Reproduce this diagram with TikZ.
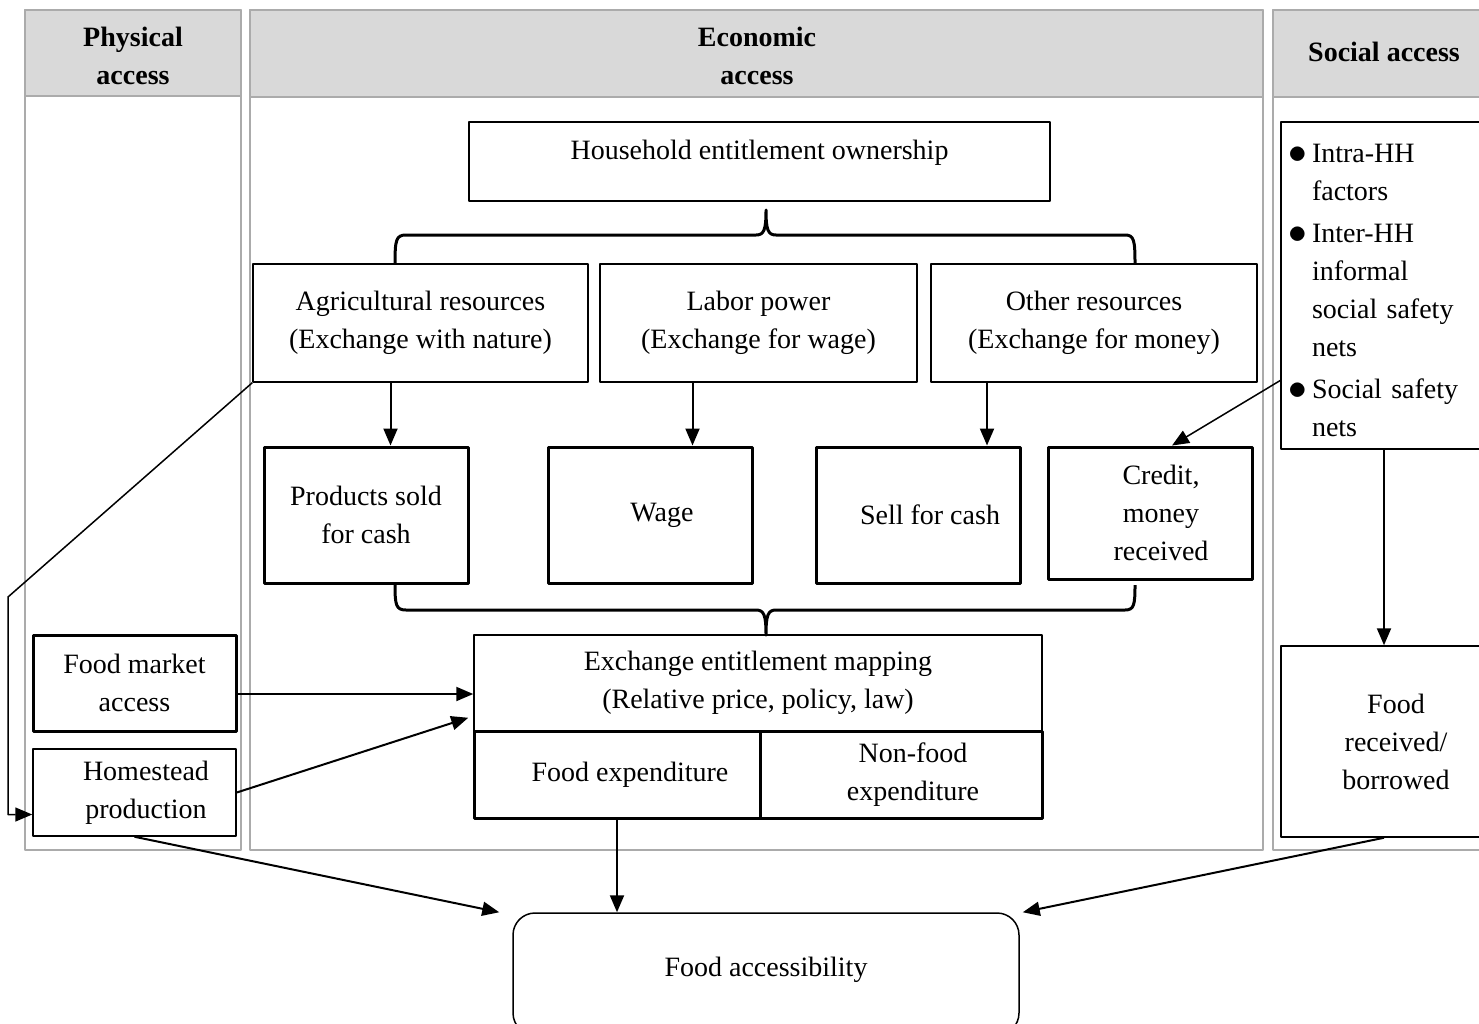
\documentclass[tikz,border=0pt]{standalone}
\usepackage{fontspec}
\setmainfont{Liberation Serif}
\usetikzlibrary{arrows.meta,positioning}

\newcommand{\dotmark}{\makebox[17pt][l]{\hspace*{-7pt}\raisebox{-0.5pt}{\scalebox{1.5}{$\bullet$}}}}

\begin{document}
\begin{tikzpicture}[x=1pt, y=-1pt, line join=round, >={Triangle[length=17pt,width=14pt]},
	font=\fontsize{28}{38}\selectfont,
	panel/.style={draw=black!33, line width=2.2pt},
	head/.style={panel, fill=black!15},
	headtext/.style={align=center, font=\fontsize{28}{38}\selectfont\bfseries},
	box/.style={draw, line width=1.5pt, align=center, inner sep=0pt},
	thickbox/.style={box, line width=3pt},
	link/.style={->, line width=2pt},
	brace/.style={line width=3pt}]
	\clip (0,0) rectangle (1479,1023);
	% 1. the three columns with grey heads
	\draw[panel] (25,10) rectangle (241,850);
	\draw[head] (25,10) rectangle (241,96);
	\draw[panel] (250,10) rectangle (1263,850);
	\draw[head] (250,10) rectangle (1263,97);
	\draw[panel] (1273,10) rectangle (1500,850);
	\draw[head] (1273,10) rectangle (1500,97);
	\node[headtext] (phys) at (133,56) {Physical\\access};
	\node[headtext] (econ) at (757,56) {Economic\\access};
	\node[headtext] (soci) at (1384,52) {Social access};
	
	% 2. economic access boxes
	\node[box, minimum width=581pt, minimum height=79pt] (hho) at (759.5,161.5) {\raisebox{23pt}{Household entitlement ownership}};
	\node[box, minimum width=335pt, minimum height=118pt] (agr) at (420.5,323) {Agricultural resources\\(Exchange with nature)};
	\node[box, minimum width=317pt, minimum height=118pt] (lab) at (758.5,323) {Labor power\\(Exchange for wage)};
	\node[box, minimum width=326pt, minimum height=118pt] (oth) at (1094,323) {Other resources\\(Exchange for money)};
	\node[thickbox, minimum width=204pt, minimum height=136pt] (psc) at (366,515) {Products sold\\for cash};
	\node[thickbox, minimum width=204pt, minimum height=136pt] (wag) at (650,515) {\hspace*{24pt}Wage};
	\node[thickbox, minimum width=204pt, minimum height=136pt] (sfc) at (918,515) {\hspace*{24pt}Sell for cash};
	\node[thickbox, minimum width=204pt, minimum height=132pt] (crd) at (1150,513) {\hspace*{22pt}Credit,\\\hspace*{22pt}money\\\hspace*{22pt}received};
	\node[box, minimum width=568pt, minimum height=96pt] (exm) at (758,683) {Exchange entitlement mapping\\(Relative price, policy, law)};
	\node[thickbox, minimum width=286pt, minimum height=87pt] (fex) at (617,774.5) {\hspace*{26pt}Food expenditure};
	\node[thickbox, minimum width=282pt, minimum height=87pt] (nfx) at (901,774.5) {\raisebox{-11pt}{\parbox{200pt}{\centering\hspace*{24pt}Non-food\\\hspace*{24pt}expenditure}}};
	
	% 3. physical access boxes
	\node[thickbox, minimum width=203pt, minimum height=96pt] (fma) at (134.5,683) {Food market\\access};
	\node[box, minimum width=203pt, minimum height=87pt] (hst) at (134.5,792.5) {\hspace*{23pt}Homestead\\\hspace*{23pt}production};
	
	% 4. social access boxes
	\node[box, minimum width=206pt, minimum height=327pt, text width=178pt, align=left] (soc) at (1384,285.5)
		{\parbox{178pt}{\vspace*{10pt}\dotmark Intra-HH\\\hspace*{17pt}factors\\[4pt]
		 \dotmark Inter-HH\\\hspace*{17pt}informal\\\hspace*{17pt}social safety\\\hspace*{17pt}nets\\[4pt]
		 \dotmark Social safety\\\hspace*{17pt}nets}};
	\node[box, minimum width=206pt, minimum height=191pt] (rcv) at (1384,741.5) {\hspace*{24pt}Food\\\hspace*{24pt}received/\\\hspace*{24pt}borrowed};
	
	% 5. result
	\node[draw, line width=1.5pt, rounded corners=22pt, minimum width=506pt, minimum height=122pt] (acc) at (766,974) {\raisebox{14pt}{Food accessibility}};
	
	% 6. braces
	\draw[brace] (395,264) .. controls (395,240) and (396,235) .. (406,235) -- (756,235)
		.. controls (764,235) and (766,230) .. (766,210) .. controls (766,230) and (768,235) .. (776,235)
		-- (1125,235) .. controls (1134,235) and (1135,240) .. (1135,264);
	\draw[brace] (395,585) .. controls (395,605) and (396,610) .. (406,610) -- (756,610)
		.. controls (764,610) and (766,615) .. (766,635) .. controls (766,615) and (768,610) .. (776,610)
		-- (1125,610) .. controls (1134,610) and (1135,605) .. (1135,585);
	
	% 7. arrows
	\foreach \a/\b/\s in {agr/psc/-30, lab/wag/-66, oth/sfc/-107}
		\draw[link] ([xshift=\s pt]\a.south) -- ([xshift=\s pt]\a.south |- \b.north);
	\draw[link] ([yshift=-11pt]fma.east) -- ([yshift=-11pt]fma.east -| exm.west);
	\draw[link] (hst.east) -- ([xshift=-5pt,yshift=14pt]exm.south west);
	\draw[link, line width=1.5pt] (agr.south west) -- (8,597) |- ([yshift=-22pt]hst.west);
	\draw[link, line width=1.5pt] ([yshift=-95pt]soc.west) -- ([xshift=22pt]crd.north);
	\draw[link] (soc.south) -- (rcv.north);
	\draw[link] (hst.south) -- ([xshift=-13pt]acc.north west);
	\draw[link] (fex.south) -- (fex.south |- acc.north);
	\draw[link] (rcv.south) -- ([xshift=3pt]acc.north east);
\end{tikzpicture}
\end{document}
